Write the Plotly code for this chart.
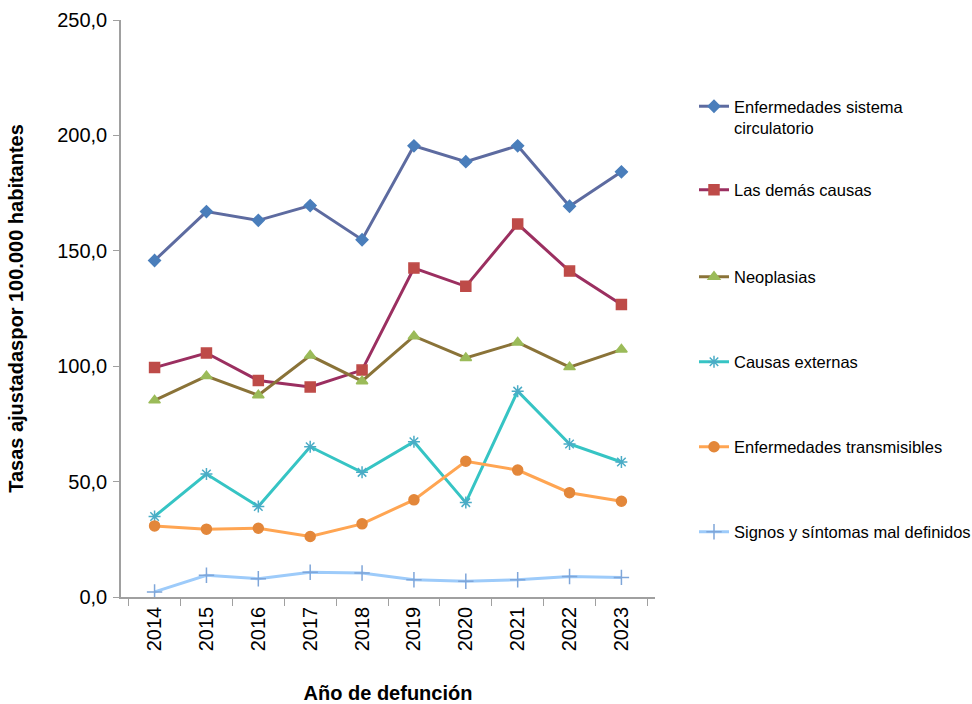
import plotly.graph_objects as go

# Age-adjusted mortality rates per 100,000 inhabitants, by year of death
years = ["2014", "2015", "2016", "2017", "2018", "2019", "2020", "2021", "2022", "2023"]

circulatorio = [145.8, 167.0, 163.2, 169.6, 154.8, 195.5, 188.6, 195.5, 169.3, 184.2]
demas_causas = [99.4, 105.7, 93.8, 91.0, 98.3, 142.5, 134.6, 161.6, 141.2, 126.7]
neoplasias = [85.2, 95.7, 87.4, 104.6, 93.5, 113.0, 103.6, 110.3, 99.6, 107.2]
causas_externas = [34.9, 53.3, 39.2, 65.1, 54.0, 67.3, 40.9, 89.2, 66.3, 58.5]
transmisibles = [30.8, 29.4, 29.8, 26.2, 31.7, 42.1, 58.8, 55.0, 45.2, 41.5]
mal_definidos = [2.2, 9.4, 7.9, 10.7, 10.4, 7.5, 6.8, 7.5, 8.9, 8.5]

series_names = [
    "Enfermedades sistema<br>circulatorio",
    "Las demás causas",
    "Neoplasias",
    "Causas externas",
    "Enfermedades transmisibles",
    "Signos y síntomas mal definidos",
]
series_values = [circulatorio, demas_causas, neoplasias, causas_externas,
                 transmisibles, mal_definidos]
line_colors = ["#5D6BA0", "#9B2F60", "#8A7338", "#36C4C4", "#FFA552", "#9DCBFA"]
marker_colors = ["#4A7EBB", "#BE4B48", "#9BBB59", "#4BACC6", "#E3873A", "#7FA6D9"]
marker_symbols = ["diamond", "square", "triangle-up", "asterisk-open", "circle", "cross-thin-open"]
marker_sizes = [9, 10, 10, 10, 10, 11]

FONT = "Liberation Sans, Arial, sans-serif"

# plot area in pixels
PX_L, PX_R, PX_T, PX_B = 121, 655, 20, 597
W, H = 972, 704

# vertical pixel position of each legend entry
legend_py = [89, 190, 277, 362, 447, 532]

fig = go.Figure()
layout_legends = {}
for i, (name, vals) in enumerate(zip(series_names, series_values)):
    lg = "legend" if i == 0 else f"legend{i + 1}"
    fig.add_trace(go.Scatter(
        x=years, y=vals, name=name, mode="lines+markers",
        line=dict(color=line_colors[i], width=3),
        marker=dict(symbol=marker_symbols[i], size=marker_sizes[i],
                    color=marker_colors[i],
                    line=dict(color=marker_colors[i], width=1.5)),
        legend=lg,
    ))
    py = legend_py[i]
    layout_legends[lg] = dict(
        x=(694 - PX_L) / (PX_R - PX_L),
        xanchor="left",
        y=(PX_B - py) / (PX_B - PX_T),
        yanchor="top" if i == 0 else "middle",
        valign="top",
        bgcolor="rgba(0,0,0,0)",
        font=dict(family=FONT, size=16.5, color="#000000"),
        itemwidth=30,
    )

fig.update_layout(
    width=W, height=H,
    margin=dict(l=PX_L, r=W - PX_R, t=PX_T, b=H - PX_B, autoexpand=False),
    paper_bgcolor="white", plot_bgcolor="white",
    separators=",.",
    showlegend=True,
    **layout_legends,
)

fig.update_xaxes(
    type="category",
    tickson="boundaries",
    ticks="outside", ticklen=7, tickcolor="#A0A0A0", tickwidth=1,
    showline=True, linecolor="#A0A0A0", linewidth=1.5,
    showgrid=False, zeroline=False,
    tickangle=-90,
    tickfont=dict(family=FONT, size=20, color="#000000"),
    title=dict(text="<b>Año de defunción</b>", standoff=36,
               font=dict(family=FONT, size=20, color="#000000")),
    automargin=False,
)
fig.update_yaxes(
    range=[0, 250], dtick=50, tickformat=".1f",
    ticks="outside", ticklen=6, tickcolor="#A0A0A0", tickwidth=1,
    showline=True, linecolor="#A0A0A0", linewidth=1.5,
    showgrid=False, zeroline=False,
    ticklabelstandoff=2,
    tickfont=dict(family=FONT, size=20, color="#000000"),
    title=dict(text="<b>Tasas ajustadaspor 100.000 habitantes</b>", standoff=28,
               font=dict(family=FONT, size=20, color="#000000")),
    automargin=False,
)

fig.write_html("out.html")
